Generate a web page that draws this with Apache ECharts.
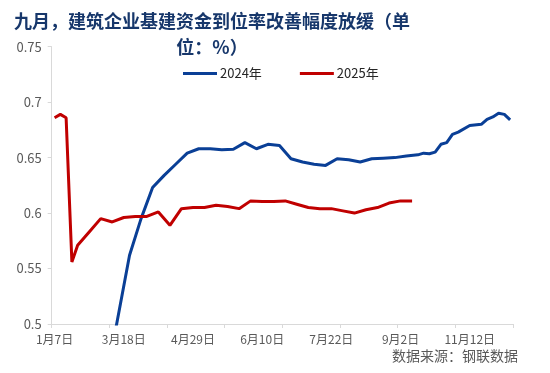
<!DOCTYPE html>
<html>
<head>
<meta charset="utf-8">
<script src="https://cdn.jsdelivr.net/npm/echarts@6/dist/echarts.min.js"></script>
<style>
html,body{margin:0;padding:0;background:#fff;}
#c{width:550px;height:373px;}
</style>
</head>
<body>
<div id="c"></div>
<script>
var categories = [
 '1月7日','1月9日','1月14日','1月16日','1月21日','1月23日','1月28日','2月4日','2月25日','3月4日','3月6日','3月11日',
 '3月18日','3月20日','3月25日','3月27日','4月1日','4月3日','4月8日','4月10日','4月15日','4月17日','4月22日','4月24日',
 '4月29日','5月1日','5月6日','5月8日','5月13日','5月15日','5月20日','5月22日','5月27日','5月29日','6月3日','6月5日',
 '6月10日','6月12日','6月17日','6月19日','6月24日','6月26日','7月1日','7月3日','7月8日','7月10日','7月15日','7月17日',
 '7月22日','7月24日','7月29日','7月31日','8月5日','8月7日','8月12日','8月14日','8月19日','8月21日','8月26日','8月28日',
 '9月2日','9月4日','9月9日','9月11日','9月16日','9月18日','9月23日','9月25日','10月15日','10月22日','10月29日','11月5日',
 '11月12日','11月19日','11月26日','12月3日','12月10日','12月17日','12月24日','12月31日'
];
var seriesNames = ['2024年','2025年'];
// 2024 (blue) — values at its own dates, null elsewhere
var values2024 = [
 null,null,null,null,null,null,null,null,null,0.451,null,null,
 null,0.562,null,0.595,null,0.623,null,0.634,null,0.644,null,0.654,
 null,0.658,null,0.658,null,0.657,null,0.6575,null,0.6635,null,0.658,
 null,0.662,null,0.661,null,0.649,null,0.646,null,0.644,null,0.643,
 null,0.649,null,0.648,null,0.646,null,0.649,null,0.6495,null,0.650,
 null,0.6515,null,0.6525,0.654,0.6535,0.655,0.662,0.6635,0.671,0.673,null,
 0.679,null,0.680,0.6845,0.6867,0.690,0.689,0.684
];
// 2025 (red)
var values2025 = [
 0.686,0.689,0.686,0.556,0.571,null,0.583,null,0.595,null,0.592,null,
 0.596,null,0.597,null,0.597,null,0.601,null,0.589,null,0.604,null,
 0.605,null,0.605,null,0.607,null,0.606,null,0.604,null,0.611,null,
 0.6105,null,0.6105,null,0.611,null,0.608,null,0.605,null,0.604,null,
 0.604,null,0.602,null,0.600,null,0.603,null,0.605,null,0.609,null,
 0.611,null,0.611,null,null,null,null,null,null,null,null,null,
 null,null,null,null,null,null,null,null
];
var yTicks = {min:0.5, max:0.75, interval:0.05};
var titleText = '九月，建筑企业基建资金到位率改善幅度放缓（单\n位：%）';
var sourceText = '数据来源：钢联数据';

var ff = '"Noto Sans CJK SC", "Noto Sans", sans-serif';
var chart = echarts.init(document.getElementById('c'), null, {renderer:'canvas'});
chart.setOption({
  animation:false,
  backgroundColor:'#fff',
  title:{
    text:titleText,
    left:207, top:3, textAlign:'center',
    textStyle:{fontFamily:ff, fontSize:18, fontWeight:'bold', color:'#17376B', lineHeight:26}
  },
  legend:{
    data:seriesNames, left:178, top:62,
    icon:'rect', itemWidth:34, itemHeight:3, itemGap:38,
    textStyle:{fontFamily:ff, fontSize:13, color:'#262626', padding:[0,0,0,-2]}
  },
  grid:{left:51.7, right:37, top:46.7, bottom:49, containLabel:false},
  xAxis:{
    type:'category', data:categories, boundaryGap:true,
    axisLine:{show:true, lineStyle:{color:'#D9D9D9', width:1}},
    axisTick:{show:true, interval:9, length:4, lineStyle:{color:'#D9D9D9'}},
    axisLabel:{interval:11, color:'#595959', fontFamily:ff, fontSize:12, margin:9},
    splitLine:{show:false}
  },
  yAxis:{
    type:'value', min:yTicks.min, max:yTicks.max, interval:yTicks.interval,
    axisLine:{show:true, lineStyle:{color:'#D9D9D9', width:1}},
    axisTick:{show:true, length:4, lineStyle:{color:'#D9D9D9'}},
    axisLabel:{color:'#595959', fontFamily:ff, fontSize:13, margin:10},
    splitLine:{show:false}
  },
  series:[
    {name:seriesNames[0], type:'line', data:values2024, connectNulls:true, symbol:'none', clip:true,
     lineStyle:{color:'#0A3F96', width:3}, itemStyle:{color:'#0A3F96'}},
    {name:seriesNames[1], type:'line', data:values2025, connectNulls:true, symbol:'none', clip:true,
     lineStyle:{color:'#C00000', width:3}, itemStyle:{color:'#C00000'}}
  ],
  graphic:[{
    type:'text', right:32, top:349,
    style:{text:sourceText, fontFamily:ff, fontSize:14, fill:'#595959'}
  }]
});
</script>
</body>
</html>
